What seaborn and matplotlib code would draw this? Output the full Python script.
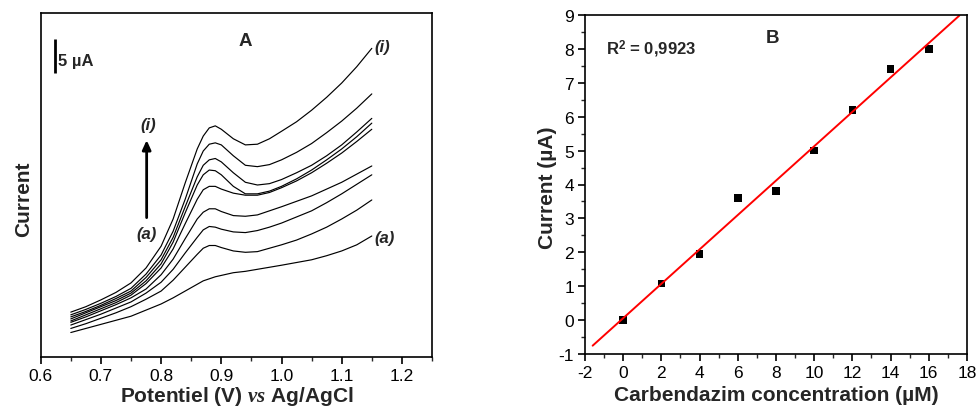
import numpy as np
import pandas as pd
import matplotlib
matplotlib.use("Agg")
import matplotlib.pyplot as plt
import seaborn as sns
from matplotlib.ticker import MultipleLocator

# ---- panel A : DPV curves (current in uA) ----
potential = [0.65, 0.675, 0.70, 0.725, 0.75, 0.775, 0.80, 0.82, 0.84, 0.86, 0.87, 0.88, 0.89,
             0.90, 0.92, 0.94, 0.96, 0.98, 1.00, 1.025, 1.05, 1.075, 1.10, 1.125, 1.15]

curve_a = [3.6, 4.2, 4.8, 5.4, 6.0, 6.9, 7.8, 8.7, 9.7, 10.7, 11.2, 11.5, 11.8,
           12.0, 12.4, 12.6, 12.9, 13.2, 13.5, 13.9, 14.3, 14.9, 15.6, 16.5, 17.8]
curve_b = [4.2, 4.9, 5.7, 6.5, 7.4, 8.5, 9.7, 11.3, 13.2, 15.1, 16.0, 16.4, 16.4,
           16.1, 15.6, 15.4, 15.5, 16.0, 16.5, 17.2, 18.1, 19.1, 20.3, 21.6, 23.1]
curve_c = [4.7, 5.5, 6.3, 7.2, 8.1, 9.4, 11.0, 12.9, 15.3, 17.6, 18.7, 19.2, 19.1,
           18.8, 18.4, 18.3, 18.6, 19.1, 19.7, 20.6, 21.5, 22.7, 24.0, 25.4, 26.8]
curve_d = [5.1, 5.9, 6.8, 7.7, 8.7, 10.0, 12.1, 14.4, 17.4, 20.3, 21.3, 21.8, 21.8,
           21.4, 20.8, 20.7, 20.9, 21.5, 22.1, 22.9, 23.7, 24.7, 25.7, 26.9, 28.1]
curve_e = [5.3, 6.2, 7.1, 8.0, 9.1, 10.8, 13.1, 15.9, 19.6, 23.2, 24.6, 25.1, 25.1,
           24.7, 24.1, 23.8, 23.8, 24.2, 24.9, 25.9, 27.1, 28.5, 30.0, 31.7, 33.5]
curve_f = [5.6, 6.5, 7.4, 8.3, 9.4, 11.2, 13.7, 16.9, 21.2, 25.3, 26.8, 27.5, 27.4,
           26.8, 25.1, 24.0, 24.0, 24.4, 25.1, 26.2, 27.5, 29.0, 30.6, 32.4, 34.4]
curve_g = [5.9, 6.7, 7.6, 8.6, 9.7, 11.7, 14.3, 17.6, 22.1, 26.5, 28.2, 29.0, 29.2,
           28.7, 27.1, 25.7, 25.3, 25.5, 26.1, 27.1, 28.2, 29.6, 31.2, 33.1, 35.1]
curve_h = [6.2, 7.0, 7.9, 8.9, 10.1, 12.2, 15.0, 18.5, 23.2, 28.4, 30.3, 31.3, 31.5,
           31.2, 29.6, 28.2, 28.0, 28.3, 29.0, 30.1, 31.4, 33.0, 34.7, 36.6, 38.7]
curve_i = [6.6, 7.4, 8.4, 9.5, 10.9, 13.1, 16.3, 20.3, 25.6, 30.6, 32.5, 33.7, 34.0,
           33.5, 32.1, 31.2, 31.3, 32.1, 33.2, 34.6, 36.3, 38.2, 40.3, 42.7, 45.4]

curves = {"a": curve_a, "b": curve_b, "c": curve_c, "d": curve_d, "e": curve_e,
          "f": curve_f, "g": curve_g, "h": curve_h, "i": curve_i}

# ---- panel B : calibration ----
conc = [0, 2, 4, 6, 8, 10, 12, 14, 16]
peak_current = [0.0, 1.08, 1.95, 3.6, 3.8, 5.0, 6.2, 7.4, 8.0]
r2_text = "0,9923"

sns.set_style("ticks")
plt.rcParams['font.family'] = ['Liberation Sans', 'DejaVu Sans']
plt.rcParams['mathtext.fontset'] = 'custom'
plt.rcParams['mathtext.it'] = 'Liberation Serif:italic:bold'
plt.rcParams['mathtext.bf'] = 'Liberation Sans:bold'
plt.rcParams['mathtext.rm'] = 'Liberation Sans'
plt.rcParams['axes.unicode_minus'] = False
plt.rcParams['axes.linewidth'] = 1.2
plt.rcParams['axes.edgecolor'] = 'black'

W, H = 979, 410
fig = plt.figure(figsize=(W / 100, H / 100), dpi=100)
axA = fig.add_axes([40.7 / W, 1 - 358 / H, (432 - 40.7) / W, (358 - 14) / H])
axB = fig.add_axes([585 / W, 1 - 355 / H, (967 - 585) / W, (355 - 16) / H])

rows = []
for name, vals in curves.items():
    for e, c in zip(potential, vals):
        rows.append({"E": e, "I": c, "curve": name})
df = pd.DataFrame(rows)

sns.lineplot(data=df, x="E", y="I", units="curve", estimator=None,
             color="black", lw=0.85, ax=axA)
axA.set_xlim(0.6, 1.25)
axA.set_ylim(0, 50.6)
axA.set_xticks([0.6, 0.7, 0.8, 0.9, 1.0, 1.1, 1.2])
axA.xaxis.set_minor_locator(MultipleLocator(0.05))
axA.set_yticks([])
axA.tick_params(axis='x', which='major', direction='out', length=5, width=1.2,
                labelsize=12.5, colors='black', pad=3)
axA.tick_params(axis='x', which='minor', direction='out', length=3, width=1.0)
axA.set_xlabel(r"Potentiel (V) $\mathit{vs}$ Ag/AgCl", fontsize=15,
               fontweight='bold', labelpad=1)
axA.set_ylabel("Current", fontsize=15, fontweight='bold')
axA.yaxis.set_label_coords(-0.02, 0.462)

axA.text(0.94, 46.5, "A", fontsize=13.5, fontweight='bold', ha='center', va='center')
axA.plot([0.624, 0.624], [41.8, 46.8], color='black', lw=2.0, solid_capstyle='butt')
axA.text(0.629, 43.6, "5 µA", fontsize=12, fontweight='bold', ha='left', va='center')
axA.text(1.155, 45.6, "(i)", fontsize=12, fontweight='bold', style='italic', ha='left', va='center')
axA.text(1.155, 17.6, "(a)", fontsize=12, fontweight='bold', style='italic', ha='left', va='center')
axA.text(0.778, 34.2, "(i)", fontsize=12, fontweight='bold', style='italic', ha='center', va='center')
axA.text(0.776, 18.2, "(a)", fontsize=12, fontweight='bold', style='italic', ha='center', va='center')
axA.annotate("", xy=(0.776, 31.9), xytext=(0.776, 20.5),
             arrowprops=dict(arrowstyle="-|>,head_width=0.25,head_length=0.55",
                             color='black', lw=2.0, shrinkA=0, shrinkB=0))

# panel B
sns.scatterplot(x=conc, y=peak_current, marker='s', color='black', s=30,
                edgecolor='none', ax=axB)
slope, intercept = np.polyfit(conc, peak_current, 1)
xfit = np.array([-1.6, 17.6])
axB.plot(xfit, slope * xfit + intercept, color='red', lw=1.4)
axB.set_xlim(-2, 18)
axB.set_ylim(-1, 9)
axB.set_xticks(range(-2, 19, 2))
axB.set_yticks(range(-1, 10))
axB.xaxis.set_minor_locator(MultipleLocator(1))
axB.yaxis.set_minor_locator(MultipleLocator(0.5))
axB.tick_params(which='major', direction='out', length=5, width=1.2,
                labelsize=12.5, colors='black', pad=3)
axB.tick_params(which='minor', direction='out', length=3, width=1.0)
axB.set_xlabel("Carbendazim concentration (µM)", fontsize=15, fontweight='bold', labelpad=3.5)
axB.set_ylabel("Current (µA)", fontsize=15, fontweight='bold')
axB.yaxis.set_label_coords(-0.073, 0.493)
axB.text(-0.9, 8.0, r"R$^\mathbf{2}$ = " + r2_text, fontsize=12, fontweight='bold',
         ha='left', va='center')
axB.text(7.84, 8.35, "B", fontsize=13.5, fontweight='bold', ha='center', va='center')

for ax in (axA, axB):
    for s in ax.spines.values():
        s.set_visible(True)
        s.set_color('black')
        s.set_linewidth(1.2)

fig.savefig("out.png", dpi=100)
